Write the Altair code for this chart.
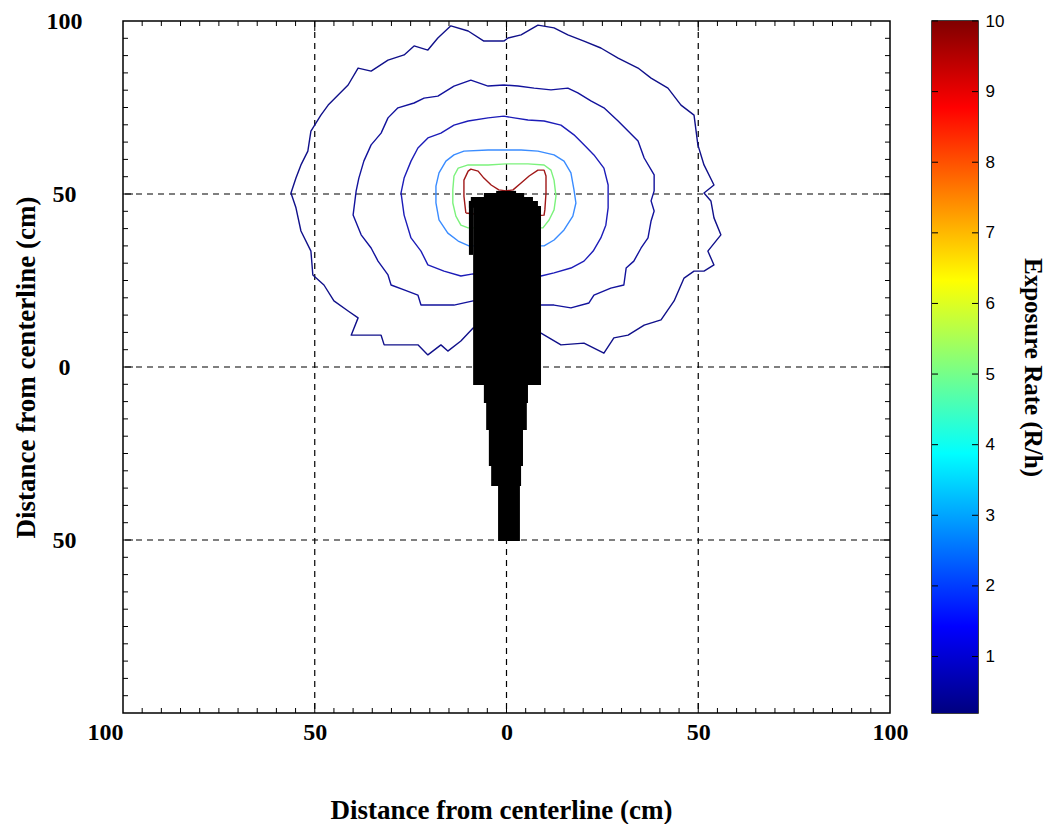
import altair as alt
import pandas as pd

# ---------------- data ----------------
# contour lines (x, y in cm); names and colours of the six iso-lines
LEVEL_NAMES = ["c1", "c2", "c3", "c4", "c5", "c6"]
LEVEL_COLORS = ["#10108a", "#12129c", "#1c1cb8", "#3a8cff", "#7cf27c", "#a01818"]

C1_X = [-0.7, -5.9, -10.0, -14.5, -17.9, -20.5, -24.1, -26.7, -30.9, -35.3, -38.7, -41.3, -43.9, -46.5, -48.4,
        -51.0, -51.8, -53.6, -54.9, -56.2, -54.9, -53.6, -51.0, -50.5, -47.6, -45.0, -41.3, -38.7, -40.5, -36.1,
        -32.7, -31.9, -27.5, -23.1, -20.5, -17.1, -15.3, -11.9, -8.7, 0.0, 9.0, 14.2, 20.2, 25.4, 28.0,
        31.7, 35.9, 40.3, 43.7, 46.3, 48.9, 51.5, 54.1, 52.5, 55.9, 54.1, 53.3, 51.5, 54.1, 51.5,
        49.9, 48.9, 45.5, 42.1, 37.7, 34.3, 29.1, 24.6, 20.2, 16.0, 12.4, 8.2, 3.8, 0.4, -0.7]
C1_Y = [94.2, 94.2, 97.1, 98.6, 95.1, 91.6, 92.8, 90.2, 88.7, 85.5, 86.4, 81.5, 78.6, 75.7, 72.8,
        68.2, 62.4, 58.4, 54.6, 50.3, 46.0, 39.3, 33.5, 26.6, 23.7, 19.1, 16.2, 14.2, 9.2, 9.2,
        9.2, 6.4, 6.4, 6.4, 3.5, 6.4, 4.6, 7.5, 11.3, 12.7, 9.8, 6.4, 6.9, 4.0, 8.4,
        9.2, 12.1, 13.6, 19.1, 25.7, 27.7, 27.7, 29.5, 33.5, 38.2, 43.1, 48.0, 50.3, 52.6, 58.4,
        64.2, 72.8, 75.7, 80.6, 83.5, 86.4, 89.3, 92.2, 94.2, 96.0, 98.0, 98.8, 96.0, 95.1, 94.2]

C2_X = [-0.7, -4.8, -9.3, -13.7, -17.9, -21.5, -24.1, -28.3, -30.9, -32.7, -35.3, -37.2, -38.5, -39.2, -40.0,
        -37.9, -35.3, -33.5, -30.9, -30.1, -26.7, -23.1, -22.3, -17.9, -13.7, -8.7, 0.0, 9.0, 12.4, 16.8,
        21.5, 22.8, 27.2, 30.6, 31.2, 33.2, 35.1, 36.9, 37.7, 38.5, 37.7, 38.5, 38.5, 35.9, 34.3,
        31.7, 29.1, 25.4, 22.0, 18.6, 16.0, 11.6, 7.2, 3.0, -0.7]
C2_Y = [81.5, 81.2, 82.9, 81.2, 78.3, 77.7, 76.3, 74.9, 72.0, 67.6, 64.2, 59.5, 54.6, 50.9, 43.9,
        38.2, 34.4, 30.6, 26.6, 23.7, 22.3, 20.8, 17.9, 17.9, 17.9, 19.1, 19.7, 17.9, 17.9, 17.1,
        18.5, 20.8, 22.8, 23.7, 28.6, 30.6, 34.4, 37.3, 42.2, 45.1, 48.0, 50.9, 55.5, 60.4, 65.3,
        68.2, 71.1, 74.9, 76.9, 79.2, 80.6, 80.1, 80.6, 81.2, 81.5]

C3_X = [-0.7, -4.8, -10.0, -13.7, -17.1, -20.5, -23.1, -24.9, -26.7, -27.5, -26.7, -24.9, -22.3, -20.5, -16.3,
        -11.9, -8.7, 0.0, 9.0, 12.4, 16.8, 20.2, 22.6, 24.6, 25.9, 26.5, 26.5, 26.5, 25.4, 22.8,
        20.2, 17.6, 14.2, 9.8, 5.6, 2.0, -0.7]
C3_Y = [72.5, 72.0, 71.1, 69.9, 67.6, 66.2, 63.3, 59.5, 54.6, 50.3, 43.9, 37.3, 33.5, 29.5, 27.7,
        26.3, 26.9, 27.2, 26.3, 27.2, 28.6, 30.6, 33.5, 37.3, 41.0, 46.0, 50.3, 52.6, 57.5, 61.3,
        64.2, 67.1, 69.9, 71.1, 71.4, 72.0, 72.5]

C4_X = [-0.1, -4.8, -11.1, -13.7, -15.8, -17.6, -18.4, -18.4, -17.6, -15.3, -12.6, -9.8, 0.0, 9.8, 12.4,
        15.0, 17.3, 18.1, 17.6, 16.8, 15.0, 12.4, 8.2, 3.8, -0.1]
C4_Y = [62.7, 62.7, 62.4, 61.3, 59.5, 56.1, 52.3, 47.4, 42.5, 38.7, 36.4, 35.0, 35.0, 35.0, 36.7,
        39.6, 43.6, 47.4, 51.2, 56.1, 59.5, 61.3, 62.4, 62.7, 62.7]

C5_X = [-0.1, -4.8, -10.0, -12.6, -13.7, -14.0, -14.0, -13.2, -11.9, -10.0, 0.0, 9.5, 11.1, 12.4, 12.9,
        12.4, 11.6, 9.8, 5.6, -0.1]
C5_Y = [58.7, 58.4, 58.4, 57.5, 55.2, 51.2, 47.4, 43.6, 41.0, 40.2, 40.2, 40.2, 42.5, 45.4, 49.4,
        54.0, 56.9, 58.4, 58.7, 58.7]

C6_X = [-10.6, -11.1, -11.1, -10.0, -9.3, -7.4, -5.9, -4.0, -2.0, -0.1, 1.7, 3.8, 5.9, 8.2, 9.8,
        10.3, 10.3, 10.0, 9.8, 0.0, -10.6]
C6_Y = [44.5, 49.4, 54.0, 56.6, 57.2, 56.6, 54.6, 52.6, 51.2, 50.9, 51.2, 53.2, 55.2, 56.9, 56.9,
        55.2, 50.3, 45.4, 43.9, 43.1, 44.5]

# black object (stacked blocks, cm)
BODY_X1 = [-8.7, -9.8, -9.8, -9.3, -5.9, -2.7, -5.9, -5.3, -4.6, -4.0, -2.2]
BODY_X2 = [9.0, -8.7, 8.2, 6.9, 4.6, 2.5, 5.6, 5.3, 4.3, 3.8, 3.5]
BODY_Y1 = [-5.2, 32.4, 46.0, 47.6, 48.8, 50.0, -10.4, -18.2, -28.6, -34.4, -50.3]
BODY_Y2 = [46.5, 48.0, 48.0, 49.1, 50.3, 50.9, -4.8, -10.0, -18.0, -28.4, -34.2]

# axes
X_TICK_LABELS = [-100, -50, 0, 50, 100]
Y_TICK_LABELS = [-50, 0, 50, 100]
GRID = [-50, 0, 50]
MINOR = [v for v in range(-95, 100, 5) if v % 50 != 0]
MAJOR = [-50, 0, 50]

# colour bar
CB_MIN, CB_MAX = 0.2, 10.0
CB_TICKS = [1, 2, 3, 4, 5, 6, 7, 8, 9, 10]
JET = [(0.0, "#000080"), (0.125, "#0000ff"), (0.375, "#00ffff"), (0.625, "#ffff00"),
       (0.875, "#ff0000"), (1.0, "#800000")]

# ---------------- chart ----------------
W, H = 767, 692
CBW = 46
SERIF = "Liberation Serif"

XS = alt.Scale(domain=[-100, 100], nice=False, zero=False)
YS = alt.Scale(domain=[-100, 100], nice=False, zero=False)

XAX = alt.Axis(values=X_TICK_LABELS, labelExpr="abs(datum.value)", title="Distance from centerline (cm)",
               grid=False, ticks=False, domain=False, labelFont=SERIF, labelFontWeight="bold",
               labelFontSize=24, labelColor="black", labelPadding=19, labelBaseline="middle",
               labelAlign={"condition": {"test": "datum.value == -100", "value": "right"}, "value": "center"},
               labelFlush=False, labelOverlap=False, titleFont=SERIF, titleFontWeight="bold",
               titleFontSize=27, titleColor="black", titleX=378, titleY=97, titleBaseline="middle",
               titleAlign="center")
YAX = alt.Axis(values=Y_TICK_LABELS, labelExpr="abs(datum.value)", title="Distance from centerline (cm)",
               grid=False, ticks=False, domain=False, labelFont=SERIF, labelFontWeight="bold",
               labelFontSize=24, labelColor="black", labelPadding=59, labelAlign="center",
               labelBaseline="middle", labelFlush=False, labelOverlap=False, titleFont=SERIF,
               titleFontWeight="bold", titleFontSize=27, titleColor="black", titleX=-97, titleY=346,
               titleBaseline="middle", titleAlign="center", titleAngle=270)

rows = []
for name, xs, ys in zip(LEVEL_NAMES, [C1_X, C2_X, C3_X, C4_X, C5_X, C6_X],
                        [C1_Y, C2_Y, C3_Y, C4_Y, C5_Y, C6_Y]):
    assert len(xs) == len(ys)
    for i, (a, b) in enumerate(zip(xs, ys)):
        rows.append({"level": name, "i": i, "x": a, "y": b})
df_c = pd.DataFrame(rows)

grid_v = alt.Chart(pd.DataFrame({"v": GRID})).mark_rule(
    color="black", strokeWidth=1.2, strokeDash=[6, 5]).encode(x=alt.X("v:Q", scale=XS, axis=XAX))
grid_h = alt.Chart(pd.DataFrame({"v": GRID})).mark_rule(
    color="black", strokeWidth=1.2, strokeDash=[6, 5]).encode(y=alt.Y("v:Q", scale=YS, axis=YAX))

lines = alt.Chart(df_c).mark_line(strokeWidth=1.4, strokeJoin="round").encode(
    x=alt.X("x:Q", scale=XS, axis=XAX),
    y=alt.Y("y:Q", scale=YS, axis=YAX),
    color=alt.Color("level:N", scale=alt.Scale(domain=LEVEL_NAMES, range=LEVEL_COLORS), legend=None),
    order="i:Q",
    detail="level:N",
)

df_b = pd.DataFrame({"x1": BODY_X1, "x2": BODY_X2, "y1": BODY_Y1, "y2": BODY_Y2})
body = alt.Chart(df_b).mark_rect(color="black").encode(
    x=alt.X("x1:Q", scale=XS, axis=XAX), x2="x2:Q",
    y=alt.Y("y1:Q", scale=YS, axis=YAX), y2="y2:Q")


def tick_layers(vals, length):
    d = pd.DataFrame({"v": vals})
    base = alt.Chart(d).mark_rule(color="black", strokeWidth=1)
    xe = alt.X("v:Q", scale=XS, axis=XAX)
    ye = alt.Y("v:Q", scale=YS, axis=YAX)
    return [
        base.encode(x=xe, y=alt.value(H), y2=alt.value(H - length)),
        base.encode(x=xe, y=alt.value(0), y2=alt.value(length)),
        base.encode(y=ye, x=alt.value(0), x2=alt.value(length)),
        base.encode(y=ye, x=alt.value(W), x2=alt.value(W - length)),
    ]


main = alt.layer(grid_v, grid_h, lines, body, *tick_layers(MINOR, 5), *tick_layers(MAJOR, 10)).properties(
    width=W, height=H)

# colour bar
CBS = alt.Scale(domain=[CB_MIN, CB_MAX], nice=False, zero=False)
CBAX = alt.Axis(orient="right", values=CB_TICKS, title="Exposure Rate (R/h)", grid=False, ticks=False,
                domain=False, labelFont="Liberation Sans", labelFontSize=17, labelColor="black",
                labelPadding=7, labelAlign="left", labelBaseline="middle", labelFlush=False,
                labelOverlap=False, titleFont=SERIF, titleFontWeight="bold", titleFontSize=25,
                titleColor="black", titleAngle=90, titleX=54, titleY=346, titleBaseline="middle",
                titleAlign="center")
gradient = alt.LinearGradient(gradient="linear",
                              stops=[alt.GradientStop(offset=o, color=c) for o, c in JET],
                              x1=0, x2=0, y1=1, y2=0)
bar = alt.Chart(pd.DataFrame({"lo": [CB_MIN], "hi": [CB_MAX]})).mark_rect(fill=gradient).encode(
    y=alt.Y("lo:Q", scale=CBS, axis=CBAX), y2="hi:Q", x=alt.value(0), x2=alt.value(CBW))
cbt = alt.Chart(pd.DataFrame({"v": CB_TICKS})).mark_rule(color="black", strokeWidth=1)
cb_ye = alt.Y("v:Q", scale=CBS, axis=CBAX)
cbar = alt.layer(
    bar,
    cbt.encode(y=cb_ye, x=alt.value(0), x2=alt.value(6)),
    cbt.encode(y=cb_ye, x=alt.value(CBW - 6), x2=alt.value(CBW)),
).properties(width=CBW, height=H)

chart = alt.hconcat(main, cbar, spacing=42, bounds="flush").configure_view(
    stroke="black", strokeWidth=1.5).properties(
    padding={"left": 3, "top": 0, "right": 0, "bottom": 0}, background="white")

chart.save("out.html", embed_options={"renderer": "svg", "actions": False})
